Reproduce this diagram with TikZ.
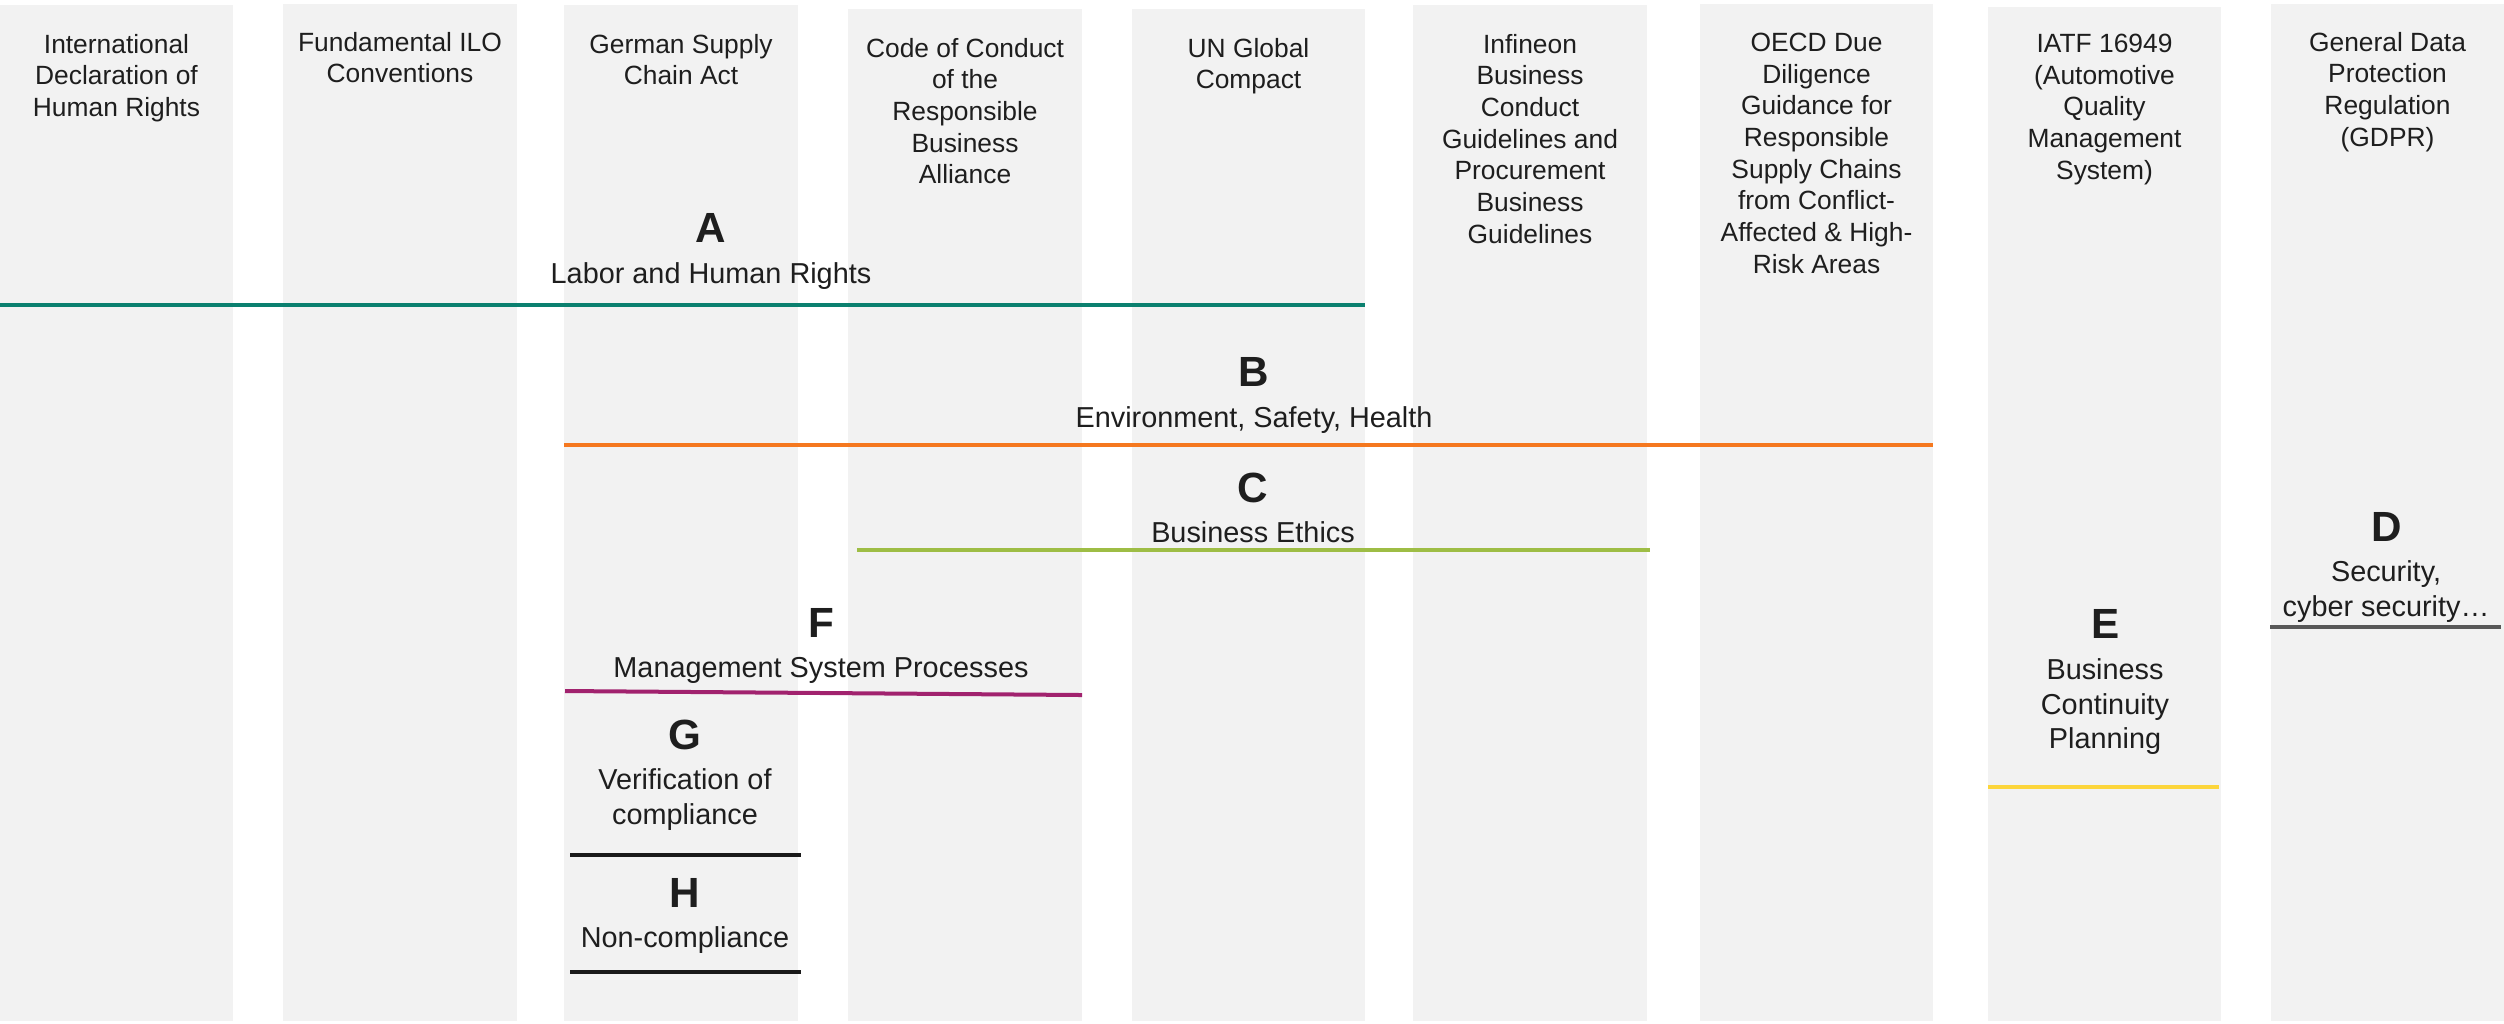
\documentclass[tikz,border=0pt]{standalone}
\usepackage{fontspec}
\setmainfont{Liberation Sans}
\definecolor{colbg}{HTML}{F2F2F2}
\definecolor{txt}{HTML}{1E1E1E}
\definecolor{cteal}{HTML}{0B806F}
\definecolor{corange}{HTML}{F5781F}
\definecolor{cgreen}{HTML}{9EBD45}
\definecolor{cmagenta}{HTML}{A1226E}
\definecolor{cgray}{HTML}{585858}
\definecolor{cyellow}{HTML}{FCD53B}
\definecolor{cblack}{HTML}{1A1A1A}
\tikzset{
  colbox/.style={fill=colbg, draw=none},
  hdr/.style={font=\fontsize{7.5}{9}\selectfont, align=center, anchor=north, inner sep=0pt, text=txt},
  letter/.style={font=\fontsize{12}{14}\selectfont\bfseries, inner sep=0pt, text=txt},
  lbl/.style={font=\fontsize{8.2}{9.9}\selectfont, align=center, anchor=north, inner sep=0pt, text=txt},
  bar/.style={line width=0.4mm},
}
\begin{document}
\begin{tikzpicture}[x=0.01cm, y=-0.01cm]
\useasboundingbox (0,0) rectangle (2504,1023);
% columns
\fill[colbox] (0,5) rectangle (233,1021);
\fill[colbox] (283,4) rectangle (517,1021);
\fill[colbox] (564,5) rectangle (798,1021);
\fill[colbox] (848,9) rectangle (1082,1021);
\fill[colbox] (1132,9) rectangle (1365,1021);
\fill[colbox] (1413,5) rectangle (1647,1021);
\fill[colbox] (1700,4) rectangle (1933,1021);
\fill[colbox] (1988,7) rectangle (2221,1021);
\fill[colbox] (2271,4) rectangle (2504,1021);
% headers
\node[hdr] (h1) at (116.5,33.5) {International\\Declaration of\\Human Rights};
\node[hdr] (h2) at (400,31.5) {Fundamental ILO\\Conventions};
\node[hdr] (h3) at (681,33.5) {German Supply\\Chain Act};
\node[hdr] (h4) at (965,37.5) {Code of Conduct\\of the\\Responsible\\Business\\Alliance};
\node[hdr] (h5) at (1248.5,37.5) {UN Global\\Compact};
\node[hdr] (h6) at (1530,33.5) {Infineon\\Business\\Conduct\\Guidelines and\\Procurement\\Business\\Guidelines};
\node[hdr] (h7) at (1816.5,32.5) {OECD Due\\Diligence\\Guidance for\\Responsible\\Supply Chains\\from Conflict-\\Affected \& High-\\Risk Areas};
\node[hdr] (h8) at (2104.5,33.5) {IATF 16949\\(Automotive\\Quality\\Management\\System)};
\node[hdr] (h9) at (2387.5,31.5) {General Data\\Protection\\Regulation\\(GDPR)};
% labels
\node[letter] (la) at (711,228) {A};
\node[lbl] (ta) at (711,261.7) {Labor and Human Rights};
\node[letter] (lb) at (1254,372) {B};
\node[lbl] (tb) at (1254,405.7) {Environment, Safety, Health};
\node[letter] (lc) at (1253,488) {C};
\node[lbl] (tc) at (1253,520.7) {Business Ethics};
\node[letter] (ld) at (2387,527) {D};
\node[lbl] (td) at (2386,559.7) {Security,\\cyber security…};
\node[letter] (le) at (2106,624) {E};
\node[lbl] (te) at (2105,657.7) {Business\\Continuity\\Planning};
\node[letter] (lf) at (821,623) {F};
\node[lbl] (tf) at (821,656.7) {Management System Processes};
\node[letter] (lg) at (685,735) {G};
\node[lbl] (tg) at (685,767.7) {Verification of\\compliance};
\node[letter] (lh) at (685,893) {H};
\node[lbl] (th) at (685,925.7) {Non-compliance};
% bars
\coordinate (a1) at (0,305);    \coordinate (a2) at (1365,305);
\coordinate (b1) at (564,445);  \coordinate (b2) at (1933,445);
\coordinate (c1) at (857,550);  \coordinate (c2) at (1650,550);
\coordinate (d1) at (2270,627); \coordinate (d2) at (2501,627);
\coordinate (e1) at (1988,787); \coordinate (e2) at (2219,787);
\coordinate (f1) at (565,691);  \coordinate (f2) at (1082,695);
\coordinate (g1) at (570,855);  \coordinate (g2) at (801,855);
\coordinate (k1) at (570,972);  \coordinate (k2) at (801,972);
\draw[bar, cteal] (a1) -- (a2);
\draw[bar, corange] (b1) -- (b2);
\draw[bar, cgreen] (c1) -- (c2);
\draw[bar, cgray] (d1) -- (d2);
\draw[bar, cyellow] (e1) -- (e2);
\draw[bar, cmagenta] (f1) -- (f2);
\draw[bar, cblack] (g1) -- (g2);
\draw[bar, cblack] (k1) -- (k2);
\end{tikzpicture}
\end{document}
